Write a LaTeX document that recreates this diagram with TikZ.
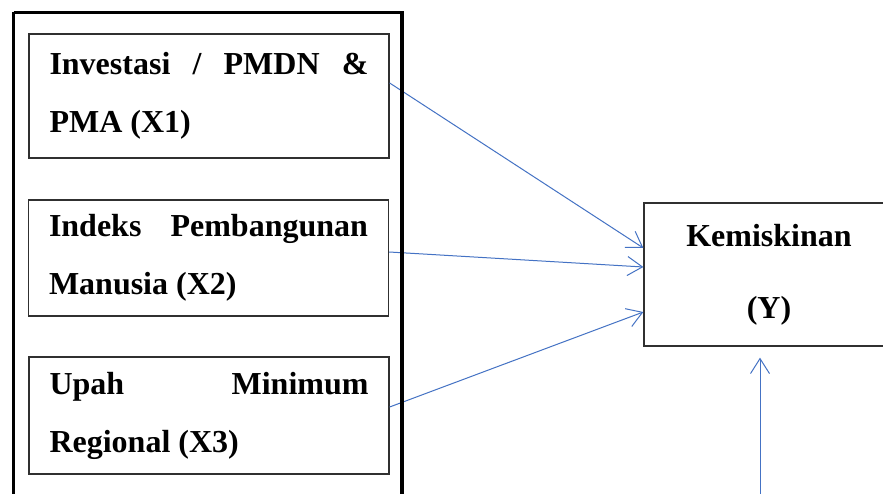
\documentclass[tikz,border=0pt]{standalone}
\usepackage{fontspec}
\setmainfont{Liberation Serif}
\usetikzlibrary{arrows.meta}
\definecolor{arrowblue}{HTML}{4472C4}
\definecolor{boxgray}{HTML}{303030}
\tikzset{
  varbox/.style={draw=boxgray, line width=1.3pt, minimum width=360pt, minimum height=117pt,
    text width=319pt, align=flush left, inner sep=0pt,
    font=\fontsize{32}{58}\selectfont\bfseries},
  ybox/.style={draw=boxgray, line width=1.3pt, minimum width=250pt, minimum height=143pt,
    align=center, inner sep=0pt, font=\fontsize{32}{72}\selectfont\bfseries},
  outerbox/.style={draw=black, line width=3.5pt},
  link/.style={draw=arrowblue, line width=1pt, -{Straight Barb[length=15pt,width=19pt,line width=1pt]}}
}
\begin{document}
\begin{tikzpicture}[x=1pt,y=-1pt]
\clip (0,0) rectangle (883,494);
\fill[white] (0,0) rectangle (883,494);
\node[varbox, minimum height=124pt] (x1) at (209,96)
  {\makebox[319pt]{Investasi\hfill/\hfill PMDN\hfill\&}\\PMA (X1)};
\node[varbox, minimum height=116pt] (x2) at (208.5,258)
  {\makebox[319pt]{Indeks\hfill Pembangunan}\\Manusia (X2)};
\node[varbox, minimum height=117pt] (x3) at (209,415.5)
  {\makebox[319pt]{Upah\hfill Minimum}\\Regional (X3)};
\node[ybox] (y) at (769,274.5) {Kemiskinan\\(Y)};
\coordinate (ybottom) at (760,500);
\draw[link] ([yshift=13pt]x1.east) -- ([yshift=26.5pt]y.west);
\draw[link] ([yshift=6pt]x2.east) -- ([yshift=7.5pt]y.west);
\draw[link] ([yshift=8.5pt]x3.east) -- ([yshift=-37.5pt]y.west);
\draw[link] (ybottom) -- ([xshift=-9pt,yshift=-11pt]y.south);
\draw[outerbox] (13.5,12.5) -- (402,12.5) -- (402,520) (13.5,12.5) -- (13.5,520);
\end{tikzpicture}
\end{document}
